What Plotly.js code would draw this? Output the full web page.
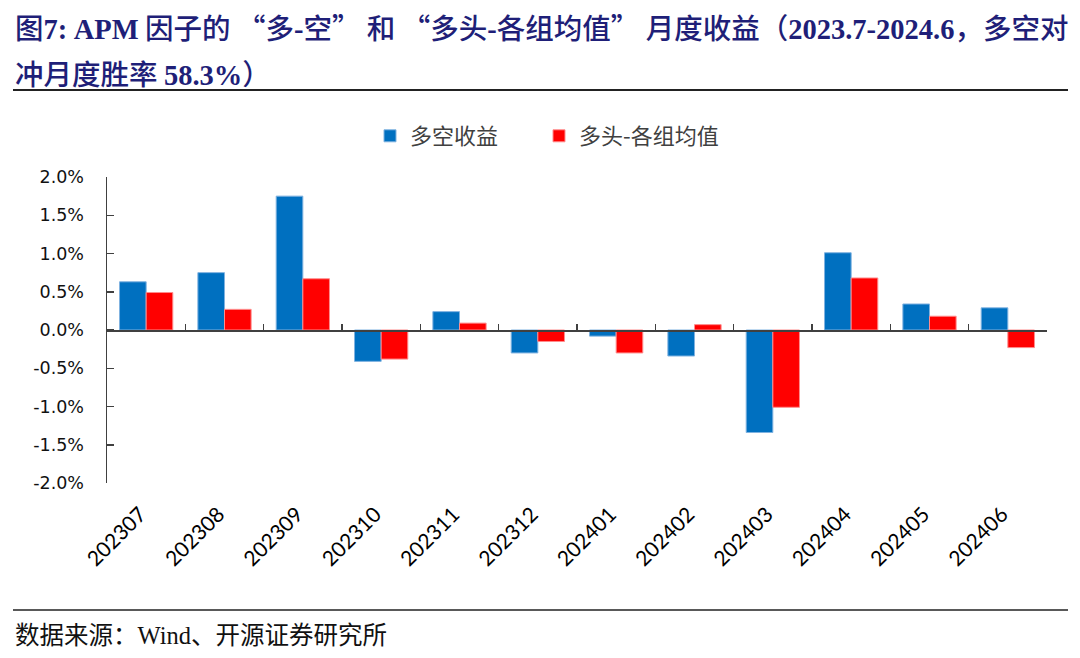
<!DOCTYPE html>
<html>
<head>
<meta charset="utf-8">
<script src="https://cdn.plot.ly/plotly-3.0.1.min.js"></script>
<style>html,body{margin:0;padding:0;background:#fff;}#chart{width:1080px;height:658px;}</style>
</head>
<body>
<div id="chart"></div>
<script>
// ---- data ----
const months = ["202307","202308","202309","202310","202311","202312","202401","202402","202403","202404","202405","202406"];
const longShort = [0.63, 0.75, 1.75, -0.41, 0.24, -0.30, -0.08, -0.34, -1.34, 1.01, 0.34, 0.29];
const longMinusMean = [0.49, 0.27, 0.67, -0.38, 0.09, -0.15, -0.30, 0.07, -1.01, 0.68, 0.18, -0.23];
const seriesNames = ["多空收益", "多头-各组均值"];
const yTickVals = [-2.0, -1.5, -1.0, -0.5, 0.0, 0.5, 1.0, 1.5, 2.0];
const yTickText = ["-2.0%", "-1.5%", "-1.0%", "-0.5%", "0.0%", "0.5%", "1.0%", "1.5%", "2.0%"];
const LAT = s => '<span style="font-family:Liberation Serif"><b>' + s + '</b></span>';
const titleLine1 = "图" + LAT("7:") + " " + LAT("APM") + " 因子的 “多" + LAT("-") + "空” 和 “多头" + LAT("-") +
                   "各组均值” 月度收益（" + LAT("2023.7-2024.6") + "，多空对";
const titleLine2 = "冲月度胜率 " + LAT("58.3%") + "）";
const sourceText = "数据来源：<span style=\"font-family:Liberation Serif\">Wind</span>、开源证券研究所";

// ---- layout helpers (pixel -> paper) ----
const L = 107, R = 1047, T = 177, B = 483, W = 1080, H = 658;
const px = x => (x - L) / (R - L);
const py = y => (B - y) / (B - T);

const traces = [
  {type: "bar", name: seriesNames[0], x: months, y: longShort, legend: "legend",
   marker: {color: "#0070C0", line: {color: "#7FB2E0", width: 1}}, hoverinfo: "x+y"},
  {type: "bar", name: seriesNames[1], x: months, y: longMinusMean, legend: "legend2",
   marker: {color: "#FF0000", line: {color: "#FF8C8C", width: 1}}, hoverinfo: "x+y"},
  // carrier for the zero-line category axis (no visible marks)
  {type: "scatter", mode: "markers", x: months, y: months.map(() => null),
   xaxis: "x2", yaxis: "y", showlegend: false, hoverinfo: "skip"}
];

const titleFont = {family: "Noto Sans CJK SC, Liberation Serif, sans-serif", size: 28.5, color: "#1F1F78", weight: 500};
const legendFont = {family: "Noto Sans CJK SC, sans-serif", size: 22, color: "#404040"};

const layout = {
  width: W, height: H,
  margin: {l: L, r: W - R, t: T, b: H - B, pad: 0},
  paper_bgcolor: "#fff", plot_bgcolor: "#fff",
  barmode: "group", bargap: 0.32, bargroupgap: 0,
  showlegend: true,
  legend: {orientation: "h", x: px(370), xanchor: "left", y: py(136), yanchor: "middle",
           font: legendFont, bgcolor: "rgba(0,0,0,0)"},
  legend2: {orientation: "h", x: px(539), xanchor: "left", y: py(136), yanchor: "middle",
           font: legendFont, bgcolor: "rgba(0,0,0,0)"},
  xaxis: {type: "category", categoryarray: months, range: [-0.5, 11.5],
          showline: false, ticks: "", showgrid: false, zeroline: false,
          tickangle: -45, ticklabelstandoff: 14, ticklabelshift: -6,
          tickfont: {family: "Lato, Open Sans, sans-serif", size: 21, color: "#000"}},
  xaxis2: {type: "category", categoryarray: months, range: [-0.5, 11.5],
           overlaying: "x", anchor: "free", position: 0.5, side: "bottom",
           showline: true, linecolor: "#404040", linewidth: 1.5,
           ticks: "inside", tickson: "boundaries", ticklen: 6, tickwidth: 1.5, tickcolor: "#404040",
           showticklabels: false, showgrid: false, zeroline: false},
  yaxis: {range: [-2, 2], tickvals: yTickVals, ticktext: yTickText,
          showline: true, linecolor: "#404040", linewidth: 1.5,
          ticks: "inside", ticklen: 7, tickwidth: 1.5, tickcolor: "#404040",
          ticklabelstandoff: 18,
          showgrid: false, zeroline: false,
          tickfont: {family: "DejaVu Sans, sans-serif", size: 17.5, color: "#111"}},
  annotations: [
    {text: titleLine1, xref: "paper", yref: "paper", x: px(13), y: py(26), xanchor: "left", yanchor: "middle",
     showarrow: false, font: titleFont},
    {text: titleLine2, xref: "paper", yref: "paper", x: px(13), y: py(72), xanchor: "left", yanchor: "middle",
     showarrow: false, font: titleFont},
    {text: sourceText, xref: "paper", yref: "paper", x: px(13), y: py(633), xanchor: "left", yanchor: "middle",
     showarrow: false, font: {family: "Noto Sans CJK SC, Liberation Serif, serif", size: 24.5, color: "#111"}}
  ],
  shapes: [
    {type: "line", xref: "paper", yref: "paper", x0: px(13), x1: px(1068), y0: py(90), y1: py(90),
     line: {color: "#222", width: 2}},
    {type: "line", xref: "paper", yref: "paper", x0: px(13), x1: px(1068), y0: py(610), y1: py(610),
     line: {color: "#222", width: 1.5}}
  ]
};

Plotly.newPlot("chart", traces, layout, {displayModeBar: false, staticPlot: true});
</script>
</body>
</html>
